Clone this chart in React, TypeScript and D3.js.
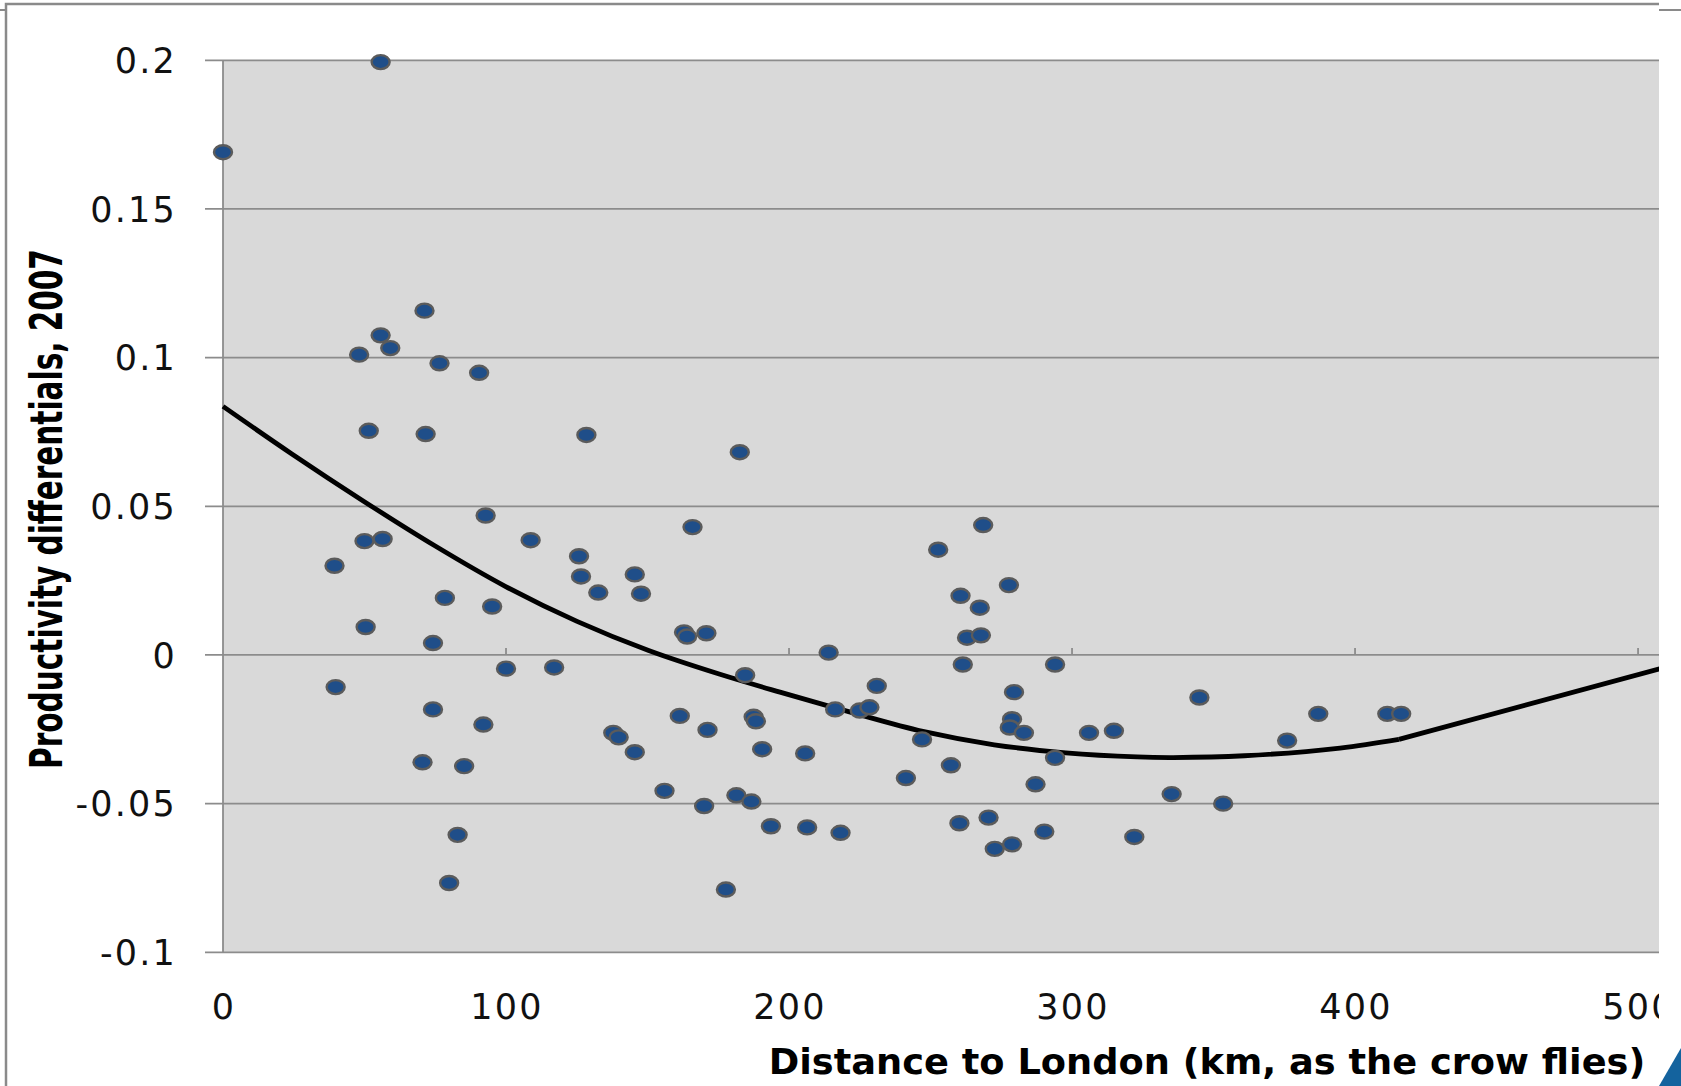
import { useEffect, useRef } from 'react';
import * as d3 from 'd3';

// distance to London (km) and productivity differential, 2007
const distanceKm = [
  0, 55.7, 71.2, 55.7, 59.1, 48.1, 76.5, 90.5, 51.5, 71.6, 128.4, 182.6, 92.8, 165.9, 268.6,
  39.4, 50, 56.4, 108.7, 125.8, 126.5, 132.6, 145.5, 147.7, 252.7, 260.6, 267.4, 277.7, 78.4,
  95.1, 50.4, 74.2, 162.9, 164, 170.8, 262.9, 267.8, 214, 39.8, 100, 117, 184.5, 261.4, 294,
  231, 279.5, 345, 74.2, 161.4, 187.5, 188.3, 216.3, 225, 228.4, 278.8, 278, 283, 387, 411.4,
  416.3, 92, 137.9, 139.8, 145.5, 171.2, 190.5, 205.7, 247, 306, 314.8, 376, 294, 70.5, 85.2,
  257.2, 241.3, 287.1, 156, 335.2, 170, 181.4, 186.7, 353.4, 193.6, 206.4, 218.2, 260.2, 270.5,
  290.2, 322, 272.7, 278.8, 82.9, 79.9, 177.7,
];
const productivity = [
  0.1691, 0.1994, 0.1158, 0.1075, 0.1032, 0.101, 0.0981, 0.0949, 0.0754, 0.0743, 0.074, 0.0682,
  0.0469, 0.043, 0.0437, 0.03, 0.0383, 0.039, 0.0386, 0.0332, 0.0264, 0.021, 0.0271, 0.0206,
  0.0354, 0.0199, 0.0159, 0.0235, 0.0192, 0.0163, 0.0094, 0.004, 0.0076, 0.0062, 0.0073, 0.0058,
  0.0066, 0.0008, -0.0108, -0.0046, -0.0042, -0.0068, -0.0032, -0.0032, -0.0104, -0.0125,
  -0.0143, -0.0183, -0.0205, -0.0208, -0.0223, -0.0183, -0.0187, -0.0176, -0.0216, -0.0244,
  -0.0262, -0.0198, -0.0198, -0.0198, -0.0234, -0.0262, -0.0277, -0.0327, -0.0252, -0.0317,
  -0.0331, -0.0284, -0.0262, -0.0255, -0.0288, -0.0346, -0.0361, -0.0374, -0.0371, -0.0414,
  -0.0435, -0.0457, -0.0468, -0.0508, -0.0472, -0.0493, -0.05, -0.0576, -0.058, -0.0598,
  -0.0566, -0.0547, -0.0594, -0.0612, -0.0652, -0.0637, -0.0605, -0.0767, -0.0789,
];

// fitted trend
const fitDistance = [0, 24.2, 49.4, 74.7, 99.9, 125.1, 150.4, 175.6, 196.8, 222, 247.3, 272.5, 297.8, 323, 335.7, 360.9, 394.7, 415.5];
const fitValue = [0.0836, 0.0677, 0.0519, 0.0368, 0.023, 0.0113, 0.0015, -0.0065, -0.0125, -0.0193, -0.0257, -0.0302, -0.0329, -0.0343, -0.0345, -0.0339, -0.0313, -0.0284];
const tailDistance = [415.5, 507.6];
const tailValue = [-0.0284, -0.0047];

const yTicks = [-0.1, -0.05, 0, 0.05, 0.1, 0.15, 0.2];
const xTicks = [0, 100, 200, 300, 400, 500];

const W = 1681;
const H = 1086;

export default function App() {
  const svgRef = useRef<SVGSVGElement>(null);

  useEffect(() => {
    if (!svgRef.current) return;
    const svg = d3.select(svgRef.current);
    svg.selectAll('*').remove();

    const left = 223, right = 1659, top = 60.3, bottom = 952.3;
    const x = d3.scaleLinear().domain([0, 507.4]).range([left, right]);
    const y = d3.scaleLinear().domain([-0.1, 0.2]).range([bottom, top]);
    const font = '"DejaVu Sans", Verdana, sans-serif';
    const grid = '#8c8c8c';

    // outer frame
    svg.append('path')
      .attr('d', `M6,${H} V4 H${right}`)
      .attr('fill', 'none').attr('stroke', '#8a8a8a').attr('stroke-width', 2.5);
    svg.append('line').attr('x1', 0).attr('x2', 6).attr('y1', 10).attr('y2', 10)
      .attr('stroke', '#8a8a8a').attr('stroke-width', 2);
    svg.append('line').attr('x1', right).attr('x2', W).attr('y1', 10).attr('y2', 10)
      .attr('stroke', '#8a8a8a').attr('stroke-width', 2);

    // plot area
    svg.append('rect')
      .attr('x', left).attr('y', top)
      .attr('width', right - left).attr('height', bottom - top)
      .attr('fill', '#d9d9d9');

    const defs = svg.append('defs');
    defs.append('clipPath').attr('id', 'plot-clip')
      .append('rect').attr('x', left - 20).attr('y', top - 20)
      .attr('width', right - left + 20).attr('height', bottom - top + 40);
    defs.append('clipPath').attr('id', 'x-clip')
      .append('rect').attr('x', 0).attr('y', 960).attr('width', right).attr('height', 80);

    // horizontal gridlines with left ticks
    svg.append('g').selectAll('line')
      .data(yTicks)
      .join('line')
      .attr('x1', left - 18).attr('x2', right)
      .attr('y1', d => y(d)).attr('y2', d => y(d))
      .attr('stroke', grid).attr('stroke-width', 1.8);

    // y axis line
    svg.append('line')
      .attr('x1', left).attr('x2', left).attr('y1', top).attr('y2', bottom)
      .attr('stroke', grid).attr('stroke-width', 1.8);

    // x ticks on zero line (pointing up)
    svg.append('g').selectAll('line')
      .data(xTicks.filter(d => d > 0))
      .join('line')
      .attr('x1', d => x(d)).attr('x2', d => x(d))
      .attr('y1', y(0)).attr('y2', y(0) - 7)
      .attr('stroke', grid).attr('stroke-width', 1.8);

    // y tick labels
    svg.append('g').selectAll('text')
      .data(yTicks)
      .join('text')
      .attr('x', 177).attr('y', d => y(d))
      .attr('dy', '0.36em')
      .attr('text-anchor', 'end')
      .attr('font-family', font).attr('font-size', 35)
      .attr('letter-spacing', 2.2)
      .attr('fill', '#111')
      .text(d => String(d));

    // x tick labels (clipped at the plot's right edge)
    svg.append('g').attr('clip-path', 'url(#x-clip)').selectAll('text')
      .data(xTicks)
      .join('text')
      .attr('x', d => x(d) + 1).attr('y', 1006)
      .attr('dy', '0.36em')
      .attr('text-anchor', 'middle')
      .attr('font-family', font).attr('font-size', 35)
      .attr('letter-spacing', 2.2)
      .attr('fill', '#111')
      .text(d => String(d));

    // trend line
    const fit = d3.zip(fitDistance, fitValue);
    const tail = d3.zip(tailDistance, tailValue);
    const lineGen = d3.line<number[]>().x(d => x(d[0])).y(d => y(d[1]));
    const plotG = svg.append('g').attr('clip-path', 'url(#plot-clip)');
    plotG.append('path')
      .attr('d', lineGen.curve(d3.curveCatmullRom.alpha(0.5))(fit))
      .attr('fill', 'none').attr('stroke', '#000').attr('stroke-width', 4.8)
      .attr('stroke-linejoin', 'round');
    plotG.append('path')
      .attr('d', lineGen.curve(d3.curveLinear)(tail))
      .attr('fill', 'none').attr('stroke', '#000').attr('stroke-width', 4.8)
      .attr('stroke-linejoin', 'round');

    // points
    plotG.append('g').selectAll('ellipse')
      .data(d3.zip(distanceKm, productivity))
      .join('ellipse')
      .attr('cx', d => x(d[0])).attr('cy', d => y(d[1]))
      .attr('rx', 9).attr('ry', 7)
      .attr('fill', '#1f4e89')
      .attr('stroke', '#5b5b5b').attr('stroke-width', 2.4);

    // axis titles, squeezed horizontally to the reference widths
    const xTitle = svg.append('text')
      .attr('text-anchor', 'middle')
      .attr('font-family', font).attr('font-weight', 'bold').attr('font-size', 35)
      .attr('fill', '#000')
      .text('Distance to London (km, as the crow flies)');
    const xLen = (xTitle.node() as SVGTextElement).getComputedTextLength() || 877;
    xTitle.attr('transform', `translate(1207,1074) scale(${877 / xLen},1)`);

    const yTitle = svg.append('text')
      .attr('text-anchor', 'middle')
      .attr('font-family', font).attr('font-weight', 'bold').attr('font-size', 45)
      .attr('fill', '#000')
      .text('Productivity differentials, 2007');
    const yLen = (yTitle.node() as SVGTextElement).getComputedTextLength() || 520;
    yTitle.attr('transform', `translate(62,509) rotate(-90) scale(${520 / yLen},1)`);

    // corner triangle
    svg.append('path')
      .attr('d', `M${right},${H} L${W},1048 L${W},${H} Z`)
      .attr('fill', '#14639e');
  }, []);

  return (
    <svg
      ref={svgRef}
      width={W}
      height={H}
      style={{ position: 'absolute', left: 0, top: 0, display: 'block', background: '#fff' }}
    />
  );
}
